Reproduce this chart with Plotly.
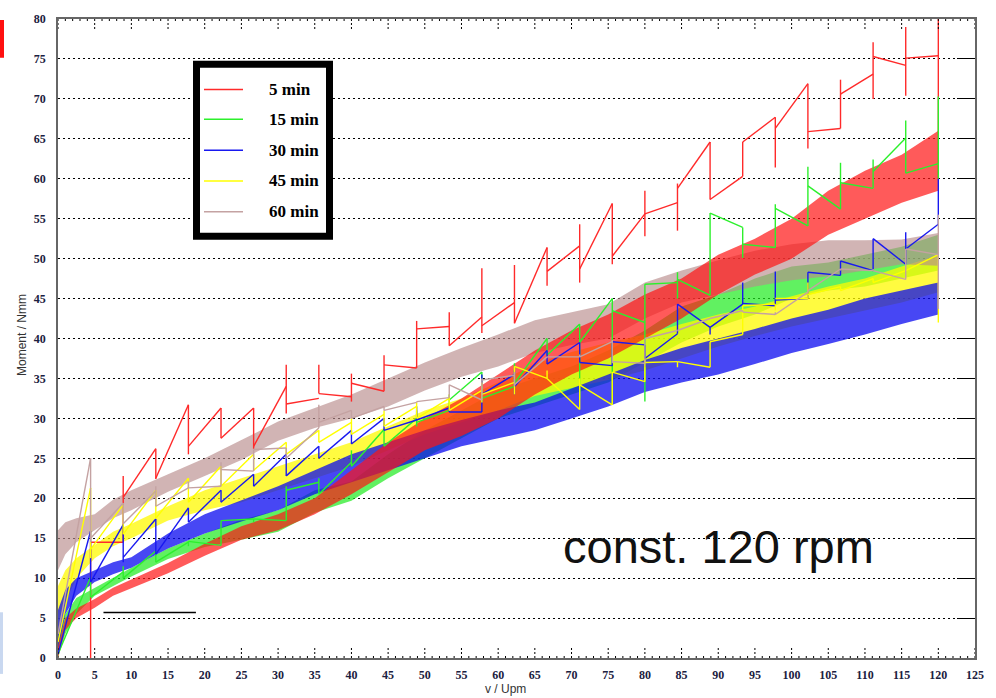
import numpy as np
import plotly.graph_objects as go

# ---------------------------------------------------------------------------
# Torque vs. speed ramp, measured after different holding times
# ---------------------------------------------------------------------------
SERIES = ["5 min", "15 min", "30 min", "45 min", "60 min"]
COLORS = ["#ff2a2a", "#2cf02c", "#1818f0", "#ffff00", "#c4a2a2"]
BAND_RGBA = ["rgba(255,20,20,0.70)", "rgba(30,235,30,0.70)", "rgba(10,10,240,0.75)",
             "rgba(255,250,0,0.75)", "rgba(185,140,140,0.65)"]

# envelope (min / max) of the fluctuating torque signal
speed_env = [0, 1, 2.5, 5, 7.5, 10, 15, 20, 25, 30, 35, 40, 45, 50, 55, 60,
             65, 70, 75, 80, 85, 90, 95, 100, 105, 110, 115, 120]

red_lo = [0, 3.5, 5.0, 6.3, 7.8, 8.8, 10.6, 12.8, 14.8, 16.0, 18.0, 20.5, 23.3, 26.0,
          27.8, 30.0, 33.0, 35.5, 37.5, 40.0, 42.5, 45.5, 48.0, 50.0, 53.0, 55.0, 57.0, 58.5]
red_hi = [1.5, 5.0, 6.2, 7.4, 8.8, 9.8, 11.9, 14.3, 16.5, 18.0, 20.0, 23.5, 27.0, 30.0,
          32.5, 35.5, 38.5, 41.0, 43.0, 45.5, 47.5, 50.5, 52.5, 55.0, 58.5, 61.0, 63.0, 66.0]

green_lo = [0, 3.0, 5.5, 7.8, 9.0, 10.2, 12.4, 13.9, 14.8, 15.8, 18.2, 19.7, 22.5, 25.0,
            27.5, 30.0, 31.5, 33.0, 34.5, 37.0, 39.5, 41.5, 43.0, 45.0, 46.0, 46.5, 47.5, 48.5]
green_hi = [3.0, 5.5, 7.5, 8.8, 10.0, 11.3, 13.7, 15.6, 17.3, 18.5, 21.0, 22.1, 25.5, 28.5,
            31.0, 33.5, 35.0, 36.5, 38.5, 41.0, 44.0, 45.5, 47.5, 49.0, 49.5, 50.5, 51.5, 53.0]

blue_lo = [1.0, 5.5, 7.8, 9.5, 10.5, 11.3, 13.7, 15.6, 17.1, 18.5, 20.5, 22.0, 23.5, 25.0,
           26.5, 27.5, 28.5, 30.0, 31.5, 33.3, 34.5, 35.5, 36.8, 38.2, 39.3, 40.5, 41.8, 43.0]
blue_hi = [6.0, 8.5, 10.0, 11.0, 12.0, 12.6, 15.6, 18.0, 19.8, 21.5, 23.5, 25.5, 27.0, 28.5,
           29.8, 31.0, 32.0, 33.8, 35.5, 37.3, 38.8, 40.0, 41.2, 42.5, 43.6, 45.0, 46.0, 47.0]

yellow_lo = [3.0, 7.0, 10.0, 12.5, 14.0, 15.0, 17.2, 18.5, 19.5, 21.0, 22.5, 24.0, 26.0, 28.0,
             29.5, 31.0, 32.8, 33.8, 34.8, 36.0, 37.5, 39.0, 40.3, 41.5, 42.5, 43.5, 44.5, 45.8]
yellow_hi = [9.0, 11.0, 12.5, 14.2, 15.8, 16.8, 19.0, 21.0, 22.5, 24.0, 25.5, 27.0, 29.0, 31.0,
             32.5, 34.5, 36.8, 38.3, 39.5, 40.5, 41.8, 43.0, 44.0, 45.3, 46.5, 47.5, 49.0, 50.4]

brown_lo = [11.0, 13.0, 14.5, 16.0, 17.5, 18.5, 20.8, 22.8, 24.8, 27.2, 28.8, 30.0, 31.5, 33.5,
            35.2, 36.5, 38.2, 39.2, 40.0, 42.5, 44.5, 45.5, 46.5, 47.3, 47.8, 48.5, 49.3, 49.1]
brown_hi = [16.0, 17.0, 17.5, 18.0, 19.8, 21.0, 23.0, 25.0, 27.3, 29.6, 31.3, 33.0, 35.0, 37.0,
            38.8, 40.5, 42.3, 43.3, 44.3, 47.0, 48.5, 49.8, 51.0, 51.8, 52.3, 52.3, 52.4, 53.2]

# speed steps: 27 equal steps up to 120 rpm; per step a straight segment
# (start -> end value) and a vertical jump line at the step's right edge
N_STEPS = 27
RPM_MAX = 120

red_seg_start = [None, 14.5, 20.1, 22.5, 26.5, 27.5, 26.5, 31.8, 33.1, 34.4, 36.7, 41.2, 39.1, 41.6,
                 41.9, 48.4, 48.7, 50.3, 55.6, 58.8, 57.4, 64.6, 66.3, 65.9, 70.6, 75.3, 75.1]
red_seg_end = [None, 14.5, 26.2, 31.7, 31.3, 31.3, 34.0, 32.5, 32.7, 33.4, 36.3, 41.5, 42.7, 44.5,
               51.4, 51.6, 56.9, 55.6, 57.0, 64.6, 60.3, 67.7, 71.9, 66.3, 73.1, 74.2, 75.4]
red_jump_lo = [0, 14.5, 22.4, 25.5, 27.5, 26.2, 30.6, 33.1, 32.1, 33.4, 36.3, 39.1, 40.7, 41.9,
               46.6, 47.0, 49.3, 52.8, 53.5, 57.4, 60.3, 61.4, 63.8, 66.3, 70.0, 70.4, 60.0]
red_jump_hi = [14.5, 22.8, 26.2, 31.7, 31.3, 31.3, 36.7, 36.7, 35.6, 37.9, 42.2, 43.3, 48.8, 49.2,
               51.4, 54.3, 56.9, 58.5, 59.4, 64.6, 64.6, 67.7, 71.9, 72.4, 77.1, 79.0, 80.0]

green_seg_start = [0.5, 7.6, 10.0, 12.0, 14.6, 17.2, 17.4, 21.0, 20.5, 24.0, 26.5, 29.5, 32.3, 32.5,
                   34.4, 37.9, 39.5, 43.5, 46.8, 47.4, 55.7, 51.8, 56.3, 59.1, 59.5, 60.9, 60.7]
green_seg_end = [10.1, 10.8, 13.4, 14.5, 14.1, 17.4, 17.2, 22.0, 24.5, 28.6, 30.0, 31.0, 35.8, 34.0,
                 40.0, 41.8, 45.0, 42.0, 47.0, 45.4, 53.9, 51.4, 54.1, 56.2, 58.8, 65.1, 61.9]
green_jump_lo = [7.6, 10.0, 12.0, 14.0, 14.1, 17.0, 17.2, 20.5, 24.0, 26.5, 29.0, 31.0, 32.1, 34.0,
                 37.9, 32.5, 31.7, 32.1, 45.0, 45.4, 50.1, 51.4, 54.1, 56.2, 58.8, 60.7, 60.0]
green_jump_hi = [10.1, 11.5, 13.4, 14.6, 17.2, 17.4, 21.5, 22.5, 26.0, 28.6, 31.0, 33.0, 35.8, 36.9,
                 40.0, 41.8, 45.0, 46.8, 48.3, 55.7, 53.9, 56.8, 61.5, 62.0, 62.4, 67.3, 70.3]

blue_seg_start = [0.5, 9.5, 12.6, 13.0, 17.0, 19.5, 21.5, 22.8, 25.0, 26.8, 28.5, 29.8, 30.8, 33.0,
                  34.0, 36.8, 37.0, 39.6, 37.5, 44.3, 41.4, 44.4, 44.8, 48.3, 49.7, 52.5, 51.2]
blue_seg_end = [15.9, 16.7, 17.4, 18.8, 21.0, 23.0, 25.5, 26.5, 28.5, 30.0, 29.8, 31.3, 30.8, 35.5,
                38.5, 39.5, 36.6, 39.2, 40.6, 41.4, 44.3, 44.1, 45.0, 47.9, 48.5, 49.3, 54.3]
blue_jump_lo = [9.5, 12.0, 13.0, 17.0, 19.5, 21.5, 22.8, 25.0, 26.8, 28.5, 29.8, 30.8, 30.8, 33.0,
                36.8, 37.0, 36.6, 36.4, 40.6, 40.5, 44.3, 44.1, 45.0, 47.9, 48.5, 49.3, 54.3]
blue_jump_hi = [15.9, 16.7, 17.4, 18.8, 21.0, 23.0, 25.5, 26.5, 28.5, 30.0, 31.5, 31.5, 35.5, 36.0,
                38.5, 39.5, 39.6, 39.2, 44.3, 41.4, 47.0, 48.4, 48.3, 49.7, 52.5, 53.3, 60.0]

yellow_seg_start = [2.0, 13.6, 15.5, 17.5, 19.5, 21.5, 23.5, 25.5, 27.0, 28.0, 29.0, 30.0, 31.0, 33.0,
                    36.5, 35.0, 34.2, 35.8, 37.0, 37.1, 39.6, 44.1, 45.0, 45.5, 46.0, 47.0, 48.5]
yellow_seg_end = [21.3, 19.2, 21.0, 22.5, 24.0, 25.5, 27.0, 28.5, 29.5, 30.5, 31.5, 32.5, 33.5, 34.5,
                  35.0, 31.1, 31.7, 34.6, 37.1, 36.4, 40.5, 44.3, 45.0, 46.5, 47.5, 48.5, 50.5]
yellow_jump_lo = [12.5, 15.5, 17.5, 19.5, 21.5, 23.5, 25.5, 27.0, 28.0, 29.0, 30.0, 31.0, 32.0, 33.0,
                  35.0, 31.1, 31.7, 34.6, 36.4, 36.4, 40.5, 43.5, 45.0, 46.0, 47.0, 48.5, 42.0]
yellow_jump_hi = [21.3, 19.2, 21.0, 22.5, 24.0, 25.5, 27.0, 28.5, 30.0, 31.0, 32.0, 33.0, 34.5, 36.5,
                  36.0, 35.0, 35.8, 37.5, 37.1, 39.6, 44.1, 44.3, 47.0, 46.5, 47.5, 48.5, 50.5]

brown_seg_start = [3.0, 15.0, 16.8, 19.0, 21.3, 23.6, 26.1, 25.0, 29.5, 30.0, 31.0, 32.1, 34.2, 34.8,
                   34.2, 37.7, 37.7, 37.1, 40.0, 41.0, 42.5, 43.3, 43.0, 46.0, 48.7, 48.5, 51.2]
brown_seg_end = [25.0, 19.4, 20.9, 21.3, 21.5, 23.4, 26.3, 28.8, 31.0, 31.5, 32.0, 32.6, 32.3, 35.4,
                 37.7, 37.7, 39.6, 36.9, 41.0, 42.5, 43.5, 43.0, 45.8, 48.7, 48.5, 47.4, 50.5]
brown_jump_lo = [14.5, 16.8, 19.0, 21.3, 21.5, 23.4, 25.0, 28.8, 30.0, 31.0, 32.0, 32.6, 32.3, 34.0,
                 37.7, 37.7, 36.9, 36.9, 41.0, 42.5, 43.3, 43.0, 45.8, 48.5, 48.5, 47.4, 43.7]
brown_jump_hi = [25.0, 19.4, 21.5, 22.1, 24.5, 26.1, 26.3, 31.7, 31.0, 31.5, 32.1, 34.2, 35.0, 35.8,
                 37.7, 38.0, 39.8, 40.0, 41.0, 42.5, 43.5, 43.3, 46.0, 48.7, 48.7, 51.2, 55.5]

# axis ticks
x_ticks = list(range(0, 126, 5))
y_ticks = list(range(0, 81, 5))

# reference bar drawn in the lower left corner (rpm, Nmm)
ref_bar_x = [6.2, 18.8]
ref_bar_y = 5.7

NOTE_TEXT = "const. 120 rpm"

# ---------------------------------------------------------------------------
envelopes = [(red_lo, red_hi), (green_lo, green_hi), (blue_lo, blue_hi),
             (yellow_lo, yellow_hi), (brown_lo, brown_hi)]
steps = [
    (red_seg_start, red_seg_end, red_jump_lo, red_jump_hi),
    (green_seg_start, green_seg_end, green_jump_lo, green_jump_hi),
    (blue_seg_start, blue_seg_end, blue_jump_lo, blue_jump_hi),
    (yellow_seg_start, yellow_seg_end, yellow_jump_lo, yellow_jump_hi),
    (brown_seg_start, brown_seg_end, brown_jump_lo, brown_jump_hi),
]
edges = np.linspace(0, RPM_MAX, N_STEPS + 1)

fig = go.Figure()

# fluctuating signal bands (drawing order: green, yellow, blue, brown, red)
for i in [1, 3, 2, 4, 0]:
    lo, hi = envelopes[i]
    fig.add_trace(go.Scatter(
        x=speed_env + speed_env[::-1], y=hi + lo[::-1],
        fill="toself", fillcolor=BAND_RGBA[i], mode="lines",
        line=dict(width=0), hoverinfo="skip", showlegend=False))

# step lines with jumps
for i, (s, e, jlo, jhi) in enumerate(steps):
    xs, ys = [], []
    for k in range(N_STEPS):
        if s[k] is not None:
            xs += [edges[k], edges[k + 1], None]
            ys += [s[k], e[k], None]
        xs += [edges[k + 1], edges[k + 1], None]
        ys += [jlo[k], jhi[k], None]
    fig.add_trace(go.Scatter(x=xs, y=ys, mode="lines",
                             line=dict(color=COLORS[i], width=1.4),
                             hoverinfo="skip", showlegend=False))

# dotted tick marks along top and bottom frame
PX_PER_Y = 643 / 80.0
major_len = 12 / PX_PER_Y
minor_len = 4 / PX_PER_Y
tx, ty = [], []
for v in range(0, 126):
    ln = major_len if v % 5 == 0 else minor_len
    tx += [v, v, None, v, v, None]
    ty += [0, ln, None, 80, 80 - ln, None]
fig.add_trace(go.Scatter(x=tx, y=ty, mode="lines",
                         line=dict(color="black", width=1, dash="2px,2px"),
                         hoverinfo="skip", showlegend=False))

# helper trace for the right-hand tick axis
fig.add_trace(go.Scatter(x=[0], y=[0], yaxis="y2", mode="markers",
                         marker=dict(opacity=0), hoverinfo="skip", showlegend=False))

# plot area in pixels: left 58, right 975, top 15, bottom 658
L, R, T, B = 58, 975, 15, 658


def paper(px, py):
    return (px - L) / (R - L), (B - py) / (B - T)


shapes = []
annotations = []

# reference bar
shapes.append(dict(type="line", xref="x", yref="y", x0=ref_bar_x[0], x1=ref_bar_x[1],
                   y0=ref_bar_y, y1=ref_bar_y, line=dict(color="black", width=1.5)))

# legend box
lx0, ly0 = paper(196.5, 60.5)
lx1, ly1 = paper(329.5, 233.5)
shapes.append(dict(type="rect", xref="paper", yref="paper", x0=lx0, y0=ly1, x1=lx1, y1=ly0,
                   line=dict(color="black", width=7), fillcolor="white", layer="above"))
legend_rows = [86, 116, 147, 178, 209]
for name, col, py in zip(SERIES, COLORS, legend_rows):
    ax0, ay = paper(204, py)
    ax1, _ = paper(243, py)
    shapes.append(dict(type="line", xref="paper", yref="paper", x0=ax0, x1=ax1, y0=ay, y1=ay,
                       line=dict(color=col, width=1.5), layer="above"))
    tx0, _ = paper(267, py)
    annotations.append(dict(xref="paper", yref="paper", x=tx0, y=ay, text=name,
                            showarrow=False, xanchor="left", yanchor="middle",
                            font=dict(family="Liberation Serif", size=17, color="black",
                                      weight="bold")))

# slide decorations left of the chart
rx0, ry0 = paper(0, 16)
rx1, ry1 = paper(4, 54)
shapes.append(dict(type="rect", xref="paper", yref="paper", x0=rx0, x1=rx1, y0=ry1, y1=ry0,
                   line=dict(width=0), fillcolor="#ff1010"))
bx0, by0 = paper(0, 612)
bx1, by1 = paper(3, 674)
shapes.append(dict(type="rect", xref="paper", yref="paper", x0=bx0, x1=bx1, y0=by1, y1=by0,
                   line=dict(width=0), fillcolor="#c9d8f0"))

# axis titles
xt, yt = paper(505, 689)
annotations.append(dict(xref="paper", yref="paper", x=xt, y=yt, text="v / Upm", showarrow=False,
                        xanchor="center", yanchor="middle",
                        font=dict(family="Liberation Sans", size=12, color="#333333")))
xt, yt = paper(22, 333)
annotations.append(dict(xref="paper", yref="paper", x=xt, y=yt, text="Moment / Nmm",
                        showarrow=False, textangle=-90, xanchor="center", yanchor="middle",
                        font=dict(family="Liberation Sans", size=12, color="#333333")))

# note text
annotations.append(dict(xref="x", yref="y", x=68.6, y=13.9, text=NOTE_TEXT, showarrow=False,
                        xanchor="left", yanchor="middle",
                        font=dict(family="Liberation Sans", size=47, color="#111111")))

tick_font = dict(family="Liberation Serif", size=12, color="#1b2040", weight="bold")

fig.update_layout(
    width=996, height=698,
    margin=dict(l=L, r=996 - R, t=T, b=698 - B),
    paper_bgcolor="white", plot_bgcolor="white",
    showlegend=False,
    xaxis=dict(range=[0, 125], tickvals=x_ticks, ticks="", showgrid=False, zeroline=False,
               showline=True, linecolor="#666666", linewidth=1.5, mirror=True,
               tickfont=tick_font, ticklabelstandoff=5),
    yaxis=dict(range=[0, 80], tickvals=y_ticks, ticks="", showgrid=True, gridcolor="black",
               gridwidth=1, griddash="2px,3px", zeroline=False, showline=True,
               linecolor="#666666", linewidth=1.5, mirror=True,
               tickfont=tick_font, ticklabelstandoff=8),
    yaxis2=dict(range=[0, 80], overlaying="y", side="right", tickvals=y_ticks, ticks="inside",
                ticklen=18, tickwidth=1.2, tickcolor="black", showticklabels=False,
                showgrid=False, zeroline=False, showline=False),
    shapes=shapes,
    annotations=annotations,
)

fig.write_html("out.html")
